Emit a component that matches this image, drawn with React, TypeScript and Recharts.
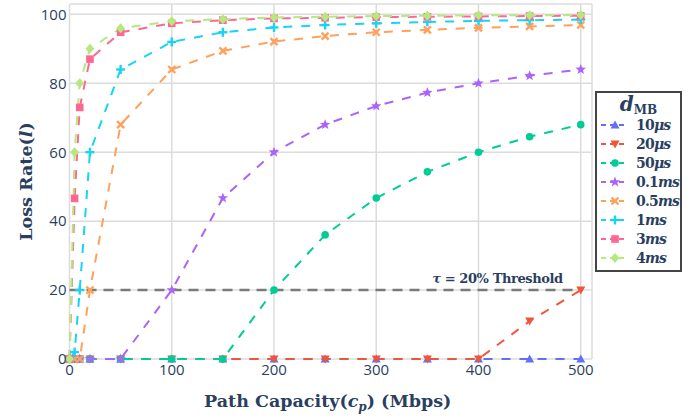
import {
    CartesianGrid,
    Legend,
    Line,
    LineChart,
    ReferenceLine,
    XAxis,
    YAxis
} from "recharts";

const capacities = [0, 5, 10, 20, 50, 100, 150, 200, 250, 300, 350, 400, 450, 500];
const loss10us = [0, 0, 0, 0, 0, 0, 0, 0, 0, 0, 0, 0, 0, 0];
const loss20us = [0, 0, 0, 0, 0, 0, 0, 0, 0, 0, 0, 0, 11, 20];
const loss50us = [0, 0, 0, 0, 0, 0, 0, 20, 36, 46.7, 54.3, 60, 64.5, 68];
const loss100us = [0, 0, 0, 0, 0, 20, 46.7, 60, 68, 73.4, 77.3, 80, 82.2, 84];
const loss500us = [0, 0, 0, 20, 68, 84, 89.4, 92.1, 93.7, 94.8, 95.5, 96.1, 96.5, 96.9];
const loss1ms = [0, 2, 20, 60, 84, 92, 94.8, 96.2, 96.9, 97.4, 97.8, 98.1, 98.3, 98.5];
const loss3ms = [0, 46.6, 73, 87, 94.8, 97.4, 98.3, 98.8, 99, 99.2, 99.3, 99.4, 99.5, 99.6];
const loss4ms = [0, 60, 80, 90, 96, 98, 98.6, 99.1, 99.3, 99.5, 99.6, 99.7, 99.7, 99.8];

const xTicks = [0, 100, 200, 300, 400, 500];
const yTicks = [0, 20, 40, 60, 80, 100];
const threshold = 20;

type Shape = "triangle-up" | "triangle-down" | "circle" | "star" | "x" | "cross" | "square" | "diamond";

interface SeriesDef {
    key: string;
    num: string;
    unit: string;
    color: string;
    shape: Shape;
    values: number[];
}

const series: SeriesDef[] = [
    {key: "d10us", num: "10", unit: "μs", color: "#636efa", shape: "triangle-up", values: loss10us},
    {key: "d20us", num: "20", unit: "μs", color: "#ef553b", shape: "triangle-down", values: loss20us},
    {key: "d50us", num: "50", unit: "μs", color: "#00cc96", shape: "circle", values: loss50us},
    {key: "d100us", num: "0.1", unit: "ms", color: "#ab63fa", shape: "star", values: loss100us},
    {key: "d500us", num: "0.5", unit: "ms", color: "#ffa15a", shape: "x", values: loss500us},
    {key: "d1ms", num: "1", unit: "ms", color: "#19d3f3", shape: "cross", values: loss1ms},
    {key: "d3ms", num: "3", unit: "ms", color: "#ff6692", shape: "square", values: loss3ms},
    {key: "d4ms", num: "4", unit: "ms", color: "#b6e880", shape: "diamond", values: loss4ms}
];

const data = capacities.map((c, i) => {
    const row: Record<string, number> = {capacity: c};
    series.forEach((s) => {
        row[s.key] = s.values[i];
    });
    return row;
});

const TEXT = "#2a3f5f";
const SERIF = "'DejaVu Serif', serif";
const SANS = "'Open Sans', sans-serif";

function starPoints(cx: number, cy: number, ro: number, ri: number) {
    const pts: string[] = [];
    for (let i = 0; i < 10; i++) {
        const r = i % 2 === 0 ? ro : ri;
        const a = -Math.PI / 2 + (i * Math.PI) / 5;
        pts.push(`${cx + r * Math.cos(a)},${cy + r * Math.sin(a)}`);
    }
    return pts.join(" ");
}

function MarkerShape({cx, cy, shape, color}: {cx: number; cy: number; shape: Shape; color: string}) {
    switch (shape) {
        case "triangle-up":
            return <polygon points={`${cx},${cy - 4.5} ${cx - 4.5},${cy + 3.5} ${cx + 4.5},${cy + 3.5}`} fill={color}/>;
        case "triangle-down":
            return <polygon points={`${cx},${cy + 4.5} ${cx - 4.5},${cy - 3.5} ${cx + 4.5},${cy - 3.5}`} fill={color}/>;
        case "circle":
            return <circle cx={cx} cy={cy} r={3.8} fill={color}/>;
        case "star":
            return <polygon points={starPoints(cx, cy, 5.5, 2.3)} fill={color}/>;
        case "x":
            return (
                <g stroke={color} strokeWidth={2.4}>
                    <line x1={cx - 3.5} y1={cy - 3.5} x2={cx + 3.5} y2={cy + 3.5}/>
                    <line x1={cx - 3.5} y1={cy + 3.5} x2={cx + 3.5} y2={cy - 3.5}/>
                </g>
            );
        case "cross":
            return (
                <g stroke={color} strokeWidth={2.4}>
                    <line x1={cx - 4.5} y1={cy} x2={cx + 4.5} y2={cy}/>
                    <line x1={cx} y1={cy - 4.5} x2={cx} y2={cy + 4.5}/>
                </g>
            );
        case "square":
            return <rect x={cx - 3.8} y={cy - 3.8} width={7.6} height={7.6} fill={color}/>;
        case "diamond":
            return <polygon points={`${cx},${cy - 5} ${cx + 4.5},${cy} ${cx},${cy + 5} ${cx - 4.5},${cy}`} fill={color}/>;
    }
    return null;
}

const LegendBox = () => (
    <div
        style={{
            border: "2px solid #444",
            background: "#fff",
            width: 83,
            boxSizing: "content-box",
            padding: "1px 0 3px 0",
            color: TEXT,
            fontFamily: SERIF
        }}
    >
        <div style={{textAlign: "center", fontSize: 20, lineHeight: "21px", height: 21, fontWeight: "bold"}}>
            <span style={{fontStyle: "italic"}}>d</span>
            <span style={{fontSize: 12, verticalAlign: -3}}>MB</span>
        </div>
        {series.map((s) => (
            <div key={s.key} style={{display: "flex", alignItems: "center", height: 19}}>
                <svg width={39} height={14} style={{flex: "none"}}>
                    <line x1={4} y1={7} x2={31} y2={7} stroke={s.color} strokeWidth={2} strokeDasharray="5 4"/>
                    <MarkerShape cx={18} cy={7} shape={s.shape} color={s.color}/>
                </svg>
                <span style={{fontSize: 14, fontWeight: "bold", whiteSpace: "nowrap", letterSpacing: -0.8}}>
                    {s.num}
                    <span style={{fontStyle: "italic"}}>{s.unit}</span>
                </span>
            </div>
        ))}
    </div>
);

const ThresholdLabel = (props: any) => {
    const vb = props.viewBox || {x: 0, y: 0, width: 0};
    return (
        <text
            x={vb.x + vb.width - 18}
            y={vb.y - 7}
            textAnchor="end"
            fill={TEXT}
            fontFamily={SERIF}
            fontWeight="bold"
            fontSize={13}
            letterSpacing={-0.4}
        >
            <tspan fontStyle="italic">τ</tspan>
            <tspan> = 20% Threshold</tspan>
        </text>
    );
};

const XTitle = (props: any) => {
    const vb = props.viewBox || {x: 0, y: 0, width: 0};
    return (
        <text x={vb.x + vb.width / 2 - 3} y={407} textAnchor="middle" fill={TEXT}
              fontFamily={SERIF} fontWeight="bold" fontSize={17.5}>
            Path Capacity(<tspan fontStyle="italic">c</tspan>
            <tspan fontStyle="italic" fontSize={12} dy={4}>p</tspan>
            <tspan dy={-4}>) (Mbps)</tspan>
        </text>
    );
};

const YTitle = (props: any) => {
    const vb = props.viewBox || {x: 0, y: 0, height: 0};
    const cy = vb.y + vb.height / 2;
    return (
        <text x={26} y={cy} textAnchor="middle" dominantBaseline="central" fill={TEXT}
              fontFamily={SERIF} fontWeight="bold" fontSize={17.5} transform={`rotate(-90 26 ${cy})`}>
            Loss Rate(<tspan fontStyle="italic">l</tspan>)
        </text>
    );
};

export default function App() {
    return (
        <div style={{position: "absolute", left: 0, top: 0, width: 697, height: 418, background: "#fff"}}>
            <LineChart width={697} height={418} data={data} margin={{top: 4, right: 105, bottom: 0, left: 0}}>
                <CartesianGrid stroke="#dcdcdc" strokeWidth={1.5} horizontalValues={yTicks} verticalValues={xTicks}/>
                <ReferenceLine y={103} stroke="#dcdcdc" strokeWidth={1.5}/>
                <ReferenceLine x={511} stroke="#dcdcdc" strokeWidth={1.5}/>
                <XAxis
                    dataKey="capacity"
                    type="number"
                    domain={[0, 511]}
                    ticks={xTicks}
                    height={59}
                    axisLine={false}
                    tickLine={false}
                    tickSize={0}
                    tickMargin={5}
                    tick={{fill: TEXT, fontSize: 15, fontFamily: SANS}}
                    label={<XTitle/>}
                />
                <YAxis
                    type="number"
                    domain={[0, 103]}
                    ticks={yTicks}
                    width={69.5}
                    axisLine={false}
                    tickLine={false}
                    tickSize={0}
                    tickMargin={3}
                    tick={{fill: TEXT, fontSize: 15, fontFamily: SANS}}
                    label={<YTitle/>}
                />
                <ReferenceLine
                    segment={[{x: 0, y: threshold}, {x: 500, y: threshold}]}
                    stroke="#7a7a7a"
                    strokeWidth={2.5}
                    strokeDasharray="10 7"
                    label={<ThresholdLabel/>}
                />
                {series.map((s) => (
                    <Line
                        key={s.key}
                        dataKey={s.key}
                        stroke={s.color}
                        strokeWidth={2}
                        strokeDasharray="9 9"
                        isAnimationActive={false}
                        dot={(p: any) => (
                            <MarkerShape key={`${s.key}-${p.index}`} cx={p.cx} cy={p.cy} shape={s.shape} color={s.color}/>
                        )}
                        activeDot={false}
                    />
                ))}
                <Legend
                    content={<LegendBox/>}
                    layout="vertical"
                    verticalAlign="middle"
                    align="center"
                    wrapperStyle={{position: "absolute", left: 595, top: 91, width: 87}}
                />
            </LineChart>
        </div>
    );
}
